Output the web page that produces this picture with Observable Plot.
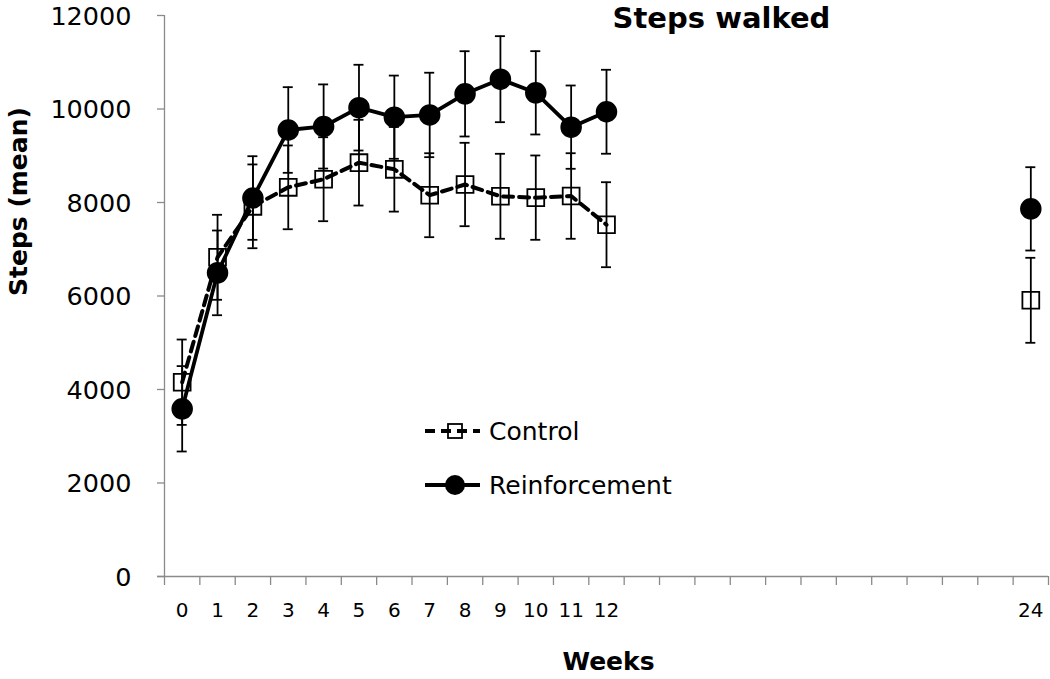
<!DOCTYPE html>
<html>
<head>
<meta charset="utf-8">
<script src="https://cdn.jsdelivr.net/npm/d3@7"></script>
<script src="https://cdn.jsdelivr.net/npm/@observablehq/plot@0.6"></script>
<style>
  body { margin: 0; background: #fff; }
  #wrap { position: relative; width: 1050px; height: 679px; }
  #legend { position: absolute; left: 0; top: 0; pointer-events: none; }
</style>
</head>
<body>
<div id="wrap"></div>
<script>
// ---- data ----
const weeks = [0, 1, 2, 3, 4, 5, 6, 7, 8, 9, 10, 11, 12, 24];
const controlMean = [4156, 6828, 7918, 8324, 8498, 8852, 8710, 8156, 8385, 8133, 8104, 8139, 7525, 5908];
const controlSE = [913, 909, 896, 896, 898, 917, 905, 898, 892, 909, 902, 915, 909, 909];
const reinforcementMean = [3587, 6495, 8096, 9551, 9626, 10029, 9825, 9873, 10324, 10638, 10346, 9612, 9941, 7864];
const reinforcementSE = [913, 906, 894, 916, 900, 917, 890, 903, 912, 920, 891, 891, 898, 891];
const yTicks = [0, 2000, 4000, 6000, 8000, 10000, 12000];
const xTickLabels = [0, 1, 2, 3, 4, 5, 6, 7, 8, 9, 10, 11, 12, 24];
const weekSlots = d3.range(0, 25);            // categories 0..24
const seriesNames = ["Control", "Reinforcement"];
const title = "Steps walked";
const xTitle = "Weeks";
const yTitle = "Steps (mean)";

// ---- tables ----
const rows = [];
weeks.forEach((w, i) => {
  rows.push({series: "Control", week: w, mean: controlMean[i], se: controlSE[i]});
  rows.push({series: "Reinforcement", week: w, mean: reinforcementMean[i], se: reinforcementSE[i]});
});
const control = rows.filter(d => d.series === "Control");
const reinf = rows.filter(d => d.series === "Reinforcement");
const boundaries = weekSlots.map(w => w - 0.5).concat([weekSlots[weekSlots.length - 1] + 0.5]);
const xDomain = [boundaries[0], boundaries[boundaries.length - 1]];

const gray = "#8a8a8a";
const font = "'DejaVu Sans', sans-serif";

const chart = Plot.plot({
  width: 1050,
  height: 679,
  marginLeft: 164,
  marginRight: 2,
  marginTop: 15,
  marginBottom: 103,
  x: {domain: xDomain, axis: null},
  y: {domain: [0, 12000], axis: null},
  style: {fontFamily: font, background: "#fff", color: "#000", overflow: "visible"},
  marks: [
    // axes
    Plot.ruleX([xDomain[0]], {x: d => d, y1: () => 0, y2: () => 12000, stroke: gray, strokeWidth: 1.3}),
    Plot.ruleY([0], {y: d => d, x1: () => xDomain[0], x2: () => xDomain[1], insetLeft: -7, stroke: gray, strokeWidth: 1.3}),
    Plot.ruleY(yTicks, {y: d => d, x1: () => xDomain[0], x2: () => xDomain[0], insetLeft: -7, stroke: gray, strokeWidth: 1.3}),
    Plot.ruleX(boundaries, {x: d => d, y1: () => 0, y2: () => 0, insetBottom: -9, stroke: gray, strokeWidth: 1.3}),
    Plot.text(yTicks, {y: d => d, frameAnchor: "left", dx: -33, dy: 1, textAnchor: "end", fontSize: 25.5, fill: "#000", text: d => String(d)}),
    Plot.text(xTickLabels, {x: d => d, frameAnchor: "bottom", dy: 40, fontSize: 20, fill: "#000", text: d => String(d)}),
    // titles
    Plot.text([title], {frameAnchor: "top", dx: 115, dy: -8.5, lineAnchor: "top", fontSize: 29, fontWeight: "bold", fill: "#000", text: d => d}),
    Plot.text([xTitle], {frameAnchor: "bottom", dx: 2, dy: 93, fontSize: 25, fontWeight: "bold", fill: "#000", text: d => d}),
    Plot.text([yTitle], {frameAnchor: "left", dx: -146, rotate: -90, fontSize: 25, fontWeight: "bold", fill: "#000", text: d => d}),
    // error bars
    Plot.ruleX(rows, {x: "week", y1: d => d.mean - d.se, y2: d => d.mean + d.se, stroke: "#000", strokeWidth: 1.8}),
    Plot.ruleY(rows, {y: d => d.mean + d.se, x1: "week", x2: "week", insetLeft: -5, insetRight: -5, stroke: "#000", strokeWidth: 1.8}),
    Plot.ruleY(rows, {y: d => d.mean - d.se, x1: "week", x2: "week", insetLeft: -5, insetRight: -5, stroke: "#000", strokeWidth: 1.8}),
    // lines (weeks 0-12 only)
    Plot.line(control.filter(d => d.week <= 12), {x: "week", y: "mean", stroke: "#000", strokeWidth: 4, strokeDasharray: "10,6"}),
    Plot.line(reinf.filter(d => d.week <= 12), {x: "week", y: "mean", stroke: "#000", strokeWidth: 3.8}),
    // markers
    Plot.dot(control, {x: "week", y: "mean", symbol: "square", r: 9.5, fill: "none", stroke: "#000", strokeWidth: 1.8}),
    Plot.dot(reinf, {x: "week", y: "mean", symbol: "circle", r: 10, fill: "#000", stroke: "#000"})
  ]
});

const wrap = document.getElementById("wrap");
wrap.appendChild(chart);

// ---- legend (overlay) ----
const legend = d3.select(wrap).append("svg")
  .attr("id", "legend").attr("width", 1050).attr("height", 679);
const items = [
  {name: seriesNames[0], dash: "10,6", symbol: "square", y: 431},
  {name: seriesNames[1], dash: null, symbol: "circle", y: 485}
];
items.forEach(it => {
  const g = legend.append("g");
  g.append("line").attr("x1", 425).attr("x2", 480).attr("y1", it.y).attr("y2", it.y)
    .attr("stroke", "#000").attr("stroke-width", 4)
    .attr("stroke-dasharray", it.dash);
  if (it.symbol === "square") {
    g.append("rect").attr("x", 455 - 7).attr("y", it.y - 7).attr("width", 14).attr("height", 14)
      .attr("fill", "none").attr("stroke", "#000").attr("stroke-width", 1.8);
  } else {
    g.append("circle").attr("cx", 455).attr("cy", it.y).attr("r", 10).attr("fill", "#000");
  }
  g.append("text").attr("x", 489).attr("y", it.y).attr("dy", "0.35em")
    .attr("font-family", font).attr("font-size", 25).attr("fill", "#000").text(it.name);
});
</script>
</body>
</html>
